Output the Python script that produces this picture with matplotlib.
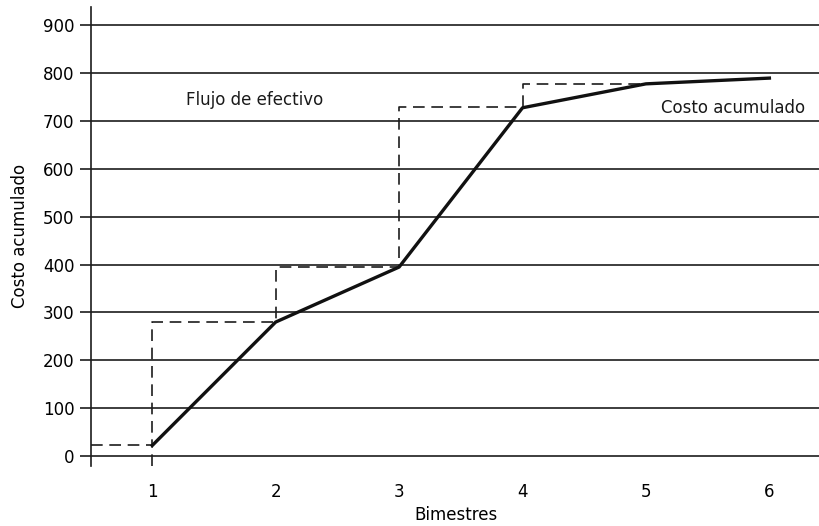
import matplotlib
matplotlib.use("Agg")
import matplotlib.pyplot as plt

plt.rcParams['font.family'] = ['Liberation Sans Narrow', 'DejaVu Sans']

bimestres = [1, 2, 3, 4, 5, 6]
costo_acumulado = [22, 280, 395, 728, 778, 790]

# cash-flow steps (dashed)
flujo_x = [0.5, 1, 1, 2, 2, 3, 3, 4, 4, 5]
flujo_y = [22, 22, 280, 280, 395, 395, 730, 730, 778, 778]

y_ticks = [0, 100, 200, 300, 400, 500, 600, 700, 800, 900]

fig = plt.figure(figsize=(8.2, 5.26), dpi=100)
ax = fig.add_axes([0.111, 0.114, 0.889, 0.873])

for v in y_ticks:
    ax.axhline(v, color='#1c1c1c', lw=1.2, zorder=1)

ax.plot(flujo_x, flujo_y, color='#1c1c1c', lw=1.2, ls=(0, (7, 4)), zorder=2)
ax.plot([1, 1], [-21, 22], color='#1c1c1c', lw=1.2, ls=(0, (7, 4)), zorder=2)
ax.plot(bimestres, costo_acumulado, color='#111111', lw=2.4, zorder=3)

ax.text(1.27, 745, 'Flujo de efectivo', fontsize=12, va='center', ha='left', color='#1a1a1a')
ax.text(6.29, 728, 'Costo acumulado', fontsize=12, va='center', ha='right', color='#1a1a1a')

ax.set_xlim(0.504, 6.41)
ax.set_ylim(-21, 939)
ax.set_yticks(y_ticks)
ax.set_xticks(bimestres)
ax.tick_params(axis='y', length=8, width=1.2, labelsize=12, pad=4, color='#1c1c1c')
ax.tick_params(axis='x', length=0, labelsize=12, pad=12)
for s in ['top', 'right', 'bottom']:
    ax.spines[s].set_visible(False)
ax.spines['left'].set_linewidth(1.2)
ax.spines['left'].set_color('#1c1c1c')

ax.set_xlabel('Bimestres', fontsize=12, labelpad=4)
ax.set_ylabel('Costo acumulado', fontsize=12, labelpad=10)

fig.savefig('out.png', dpi=100)
